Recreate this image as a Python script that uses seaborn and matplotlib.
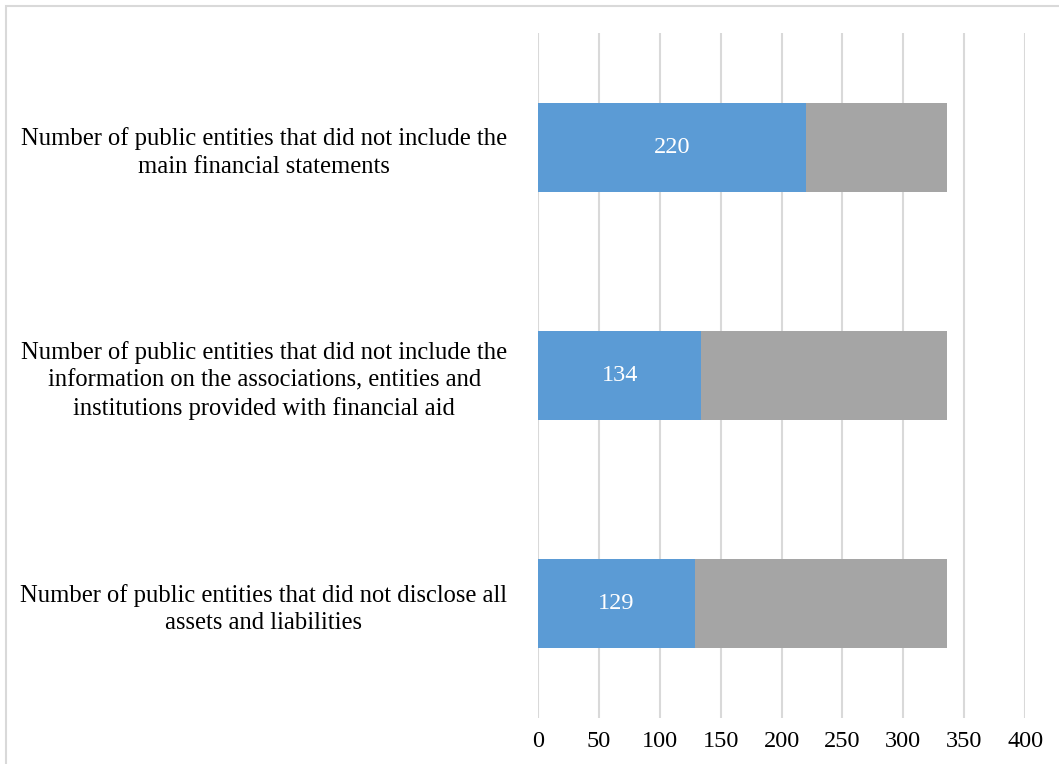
import matplotlib
matplotlib.use("Agg")
import matplotlib.pyplot as plt
import seaborn as sns
import pandas as pd
from matplotlib.patches import Rectangle

categories = [
    "Number of public entities that did not include the\nmain financial statements",
    "Number of public entities that did not include the\ninformation on the associations, entities and\ninstitutions provided with financial aid",
    "Number of public entities that did not disclose all\nassets and liabilities",
]
flagged = [220, 134, 129]
remaining = [116, 202, 207]
x_ticks = [0, 50, 100, 150, 200, 250, 300, 350, 400]

sns.set_theme(style="white")
plt.rcParams["font.family"] = ["Liberation Serif", "DejaVu Serif"]

df = pd.DataFrame({
    "category": categories,
    "flagged": flagged,
    "total": [a + b for a, b in zip(flagged, remaining)],
})

fig = plt.figure(figsize=(10.59, 7.64), dpi=100)
ax = fig.add_axes([0.508, 0.060, 0.460, 0.897])

# stacked bars: full total in grey, flagged part in blue on top
sns.barplot(data=df, y="category", x="total", orient="h", color="#A5A5A5",
            width=0.39, ax=ax, saturation=1, linewidth=0)
sns.barplot(data=df, y="category", x="flagged", orient="h", color="#5B9BD5",
            width=0.39, ax=ax, saturation=1, linewidth=0)

for i, v in enumerate(flagged):
    ax.text(v / 2, i, str(v), ha="center", va="center", color="white", fontsize=17.5)

ax.set_xlim(0, 400)
ax.set_ylim(2.5, -0.5)
ax.set_xticks(x_ticks)
ax.set_xticklabels([str(t) for t in x_ticks], fontsize=17.5, color="black")
ax.xaxis.grid(True, color="#D9D9D9", linewidth=1.5)
ax.yaxis.grid(False)
ax.set_axisbelow(True)
for s in ax.spines.values():
    s.set_visible(False)
ax.tick_params(axis="x", length=0, pad=9)
ax.tick_params(axis="y", length=0, pad=22)
for lbl in ax.get_yticklabels():
    lbl.set_multialignment("center")
    lbl.set_fontsize(17.7)
    lbl.set_color("black")
    lbl.set_linespacing(1.32)
ax.set_xlabel("")
ax.set_ylabel("")

# chart-area frame
fig.patches.append(Rectangle((6 / 1059, -0.05), 1.2, 1 - 6 / 764 + 0.05,
                             transform=fig.transFigure, fill=False,
                             edgecolor="#D9D9D9", linewidth=1.5))

fig.savefig("out.png", dpi=100)
